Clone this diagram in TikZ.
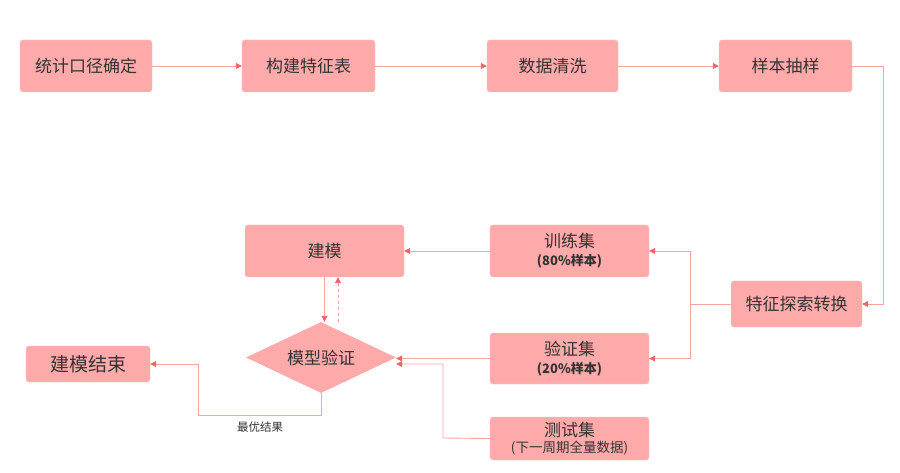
\documentclass[tikz,border=0pt]{standalone}
\usepackage{fontspec}
\usepackage{xcolor}
\usetikzlibrary{arrows.meta,shapes.geometric}
\setmainfont{Noto Sans CJK SC}
\definecolor{boxfill}{HTML}{FFAAAA}
\definecolor{boxline}{HTML}{FFBDBD}
\definecolor{linepink}{HTML}{F9A3A3}
\definecolor{tipred}{HTML}{F06464}
\definecolor{txt}{HTML}{333333}

\begin{document}
\begin{tikzpicture}[x=1pt,y=-1pt,
        box/.style={draw=boxline,fill=boxfill,rounded corners=3pt,inner sep=0pt,
                align=center,text=txt,font=\fontsize{17}{20}\selectfont},
        judge/.style={diamond,fill=boxfill,inner sep=0pt,aspect=2.1,
                text=txt,font=\fontsize{17}{20}\selectfont},
        arr/.style={draw=linepink,line width=0.9pt,
                -{Triangle[length=6pt,width=6pt,color=tipred]}},
        sub/.style={font=\fontsize{13}{15}\selectfont\bfseries}]
        \useasboundingbox (0,0) rectangle (900,473);
        \node[box,minimum width=132pt,minimum height=52pt](tongji) at (86,66) {统计口径确定};
        \node[box,minimum width=133pt,minimum height=52pt](goujian) at (308.5,66) {构建特征表};
        \node[box,minimum width=131pt,minimum height=52pt](qingxi) at (552.5,66) {数据清洗};
        \node[box,minimum width=133pt,minimum height=52pt](chouyang) at (785.5,66) {样本抽样};
        \node[box,minimum width=131pt,minimum height=46pt](tezheng) at (796.5,304) {特征探索转换};
        \node[box,minimum width=159pt,minimum height=52pt](xunlian) at (569.5,251)
                {训练集\\[-2pt]{\fontsize{13}{15}\selectfont\bfseries (80\%样本)}};
        \node[box,minimum width=159pt,minimum height=51pt](yanzheng) at (569.5,358.5)
                {验证集\\[-2pt]{\fontsize{13}{15}\selectfont\bfseries (20\%样本)}};
        \node[box,minimum width=159pt,minimum height=43pt](ceshi) at (569.5,438.5)
                {测试集\\[-4pt]{\fontsize{13.5}{15}\selectfont (下一周期全量数据)}};
        \node[box,minimum width=159pt,minimum height=52pt](jianmo) at (324.5,251) {建模};
        \node[judge,minimum width=150pt,minimum height=71pt](moxing) at (321,357.5) {模型验证};
        \node[box,minimum width=124pt,minimum height=36pt,
                font=\fontsize{19}{22}\selectfont](jieshu) at (88,364) {建模结束};
        \node[text=txt,font=\fontsize{11.5}{13}\selectfont](zuiyou) at (260,427) {最优结果};
        \coordinate(r1) at (883,66);
        \coordinate(s1) at (690,304);
        \coordinate(t1) at (443,438);
        \coordinate(u1) at (198,415);
        \draw[arr](tongji)--(goujian);
        \draw[arr](goujian)--(qingxi);
        \draw[arr](qingxi)--(chouyang);
        \draw[arr](chouyang.east)--(r1)|-(tezheng.east);
        \draw[draw=linepink,line width=0.9pt](tezheng.west)--(s1);
        \draw[arr](s1)|-(xunlian.east);
        \draw[arr](s1)|-(yanzheng.east);
        \draw[arr](xunlian.west)--(jianmo.east);
        \draw[arr](jianmo.south)--(jianmo.south|-moxing.north);
        \draw[arr,dashed]([xshift=17pt]moxing.north)--([xshift=17pt]moxing.north|-jianmo.south);
        \draw[arr](yanzheng.west)--(yanzheng.west-|moxing.east);
        \draw[arr](ceshi.west)--(t1)|-([yshift=-6.5pt]moxing.east);
        \draw[arr](moxing.south)|-(u1)|-(jieshu.east);
        \end{tikzpicture}
\end{document}
